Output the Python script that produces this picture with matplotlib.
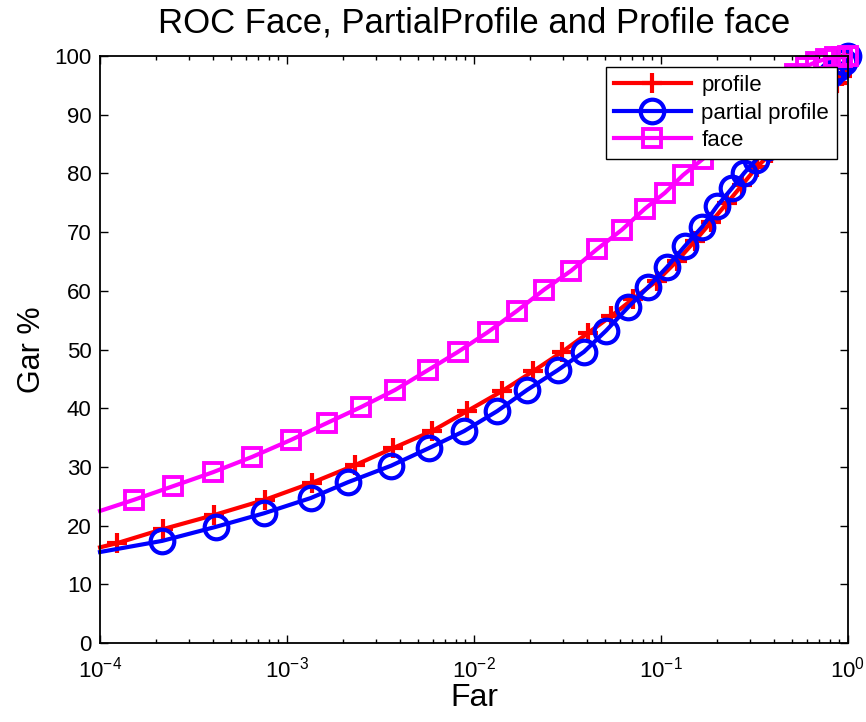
import numpy as np
import matplotlib
matplotlib.use("Agg")
import matplotlib.pyplot as plt
from matplotlib.ticker import LogLocator, FixedLocator

plt.rcParams['font.family'] = ['Liberation Sans', 'DejaVu Sans']
plt.rcParams['mathtext.fontset'] = 'custom'
plt.rcParams['mathtext.rm'] = 'Liberation Sans'
plt.rcParams['mathtext.it'] = 'Liberation Sans'

# operating points (false accept rate, genuine accept rate in %)
profile_far = [1.0e-4, 1.23e-4, 2.17e-4, 4.07e-4, 7.62e-4, 1.36e-3, 2.31e-3, 3.69e-3,
               5.96e-3, 9.18e-3, 1.41e-2, 2.07e-2, 2.96e-2, 4.07e-2, 5.41e-2, 7.08e-2,
               9.53e-2, 0.122, 0.152, 0.185, 0.225, 0.271, 0.326, 0.387, 0.461, 0.540,
               0.627, 0.708, 0.791, 0.873, 0.928, 0.975, 1.0]
profile_gar = [16.3, 17.0, 19.4, 21.8, 24.4, 27.3, 30.3, 33.2, 36.1, 39.5, 42.9, 46.3,
               49.6, 52.8, 55.7, 58.6, 61.7, 65.1, 68.5, 71.7, 74.9, 78.0, 81.1, 83.4,
               85.7, 88.0, 90.3, 92.3, 94.0, 95.4, 96.6, 98.0, 100.0]

partial_far = [1.0e-4, 2.15e-4, 4.17e-4, 7.53e-4, 1.34e-3, 2.12e-3, 3.60e-3, 5.74e-3,
               8.85e-3, 1.33e-2, 1.92e-2, 2.81e-2, 3.87e-2, 5.08e-2, 6.67e-2, 8.51e-2,
               0.108, 0.134, 0.166, 0.199, 0.240, 0.279, 0.322, 0.373, 0.432, 0.501,
               0.574, 0.650, 0.727, 0.811, 0.885, 0.953, 1.0]
partial_gar = [15.5, 17.4, 19.8, 22.1, 24.7, 27.4, 30.2, 33.2, 36.1, 39.5, 43.1, 46.5,
               49.6, 53.2, 57.2, 60.6, 64.1, 67.6, 70.9, 74.4, 77.5, 80.1, 82.3, 84.5,
               86.8, 89.2, 91.5, 93.5, 95.3, 96.9, 98.0, 99.0, 100.0]

face_far = [1.0e-4, 1.52e-4, 2.45e-4, 4.02e-4, 6.50e-4, 1.05e-3, 1.64e-3, 2.49e-3,
            3.78e-3, 5.68e-3, 8.21e-3, 1.19e-2, 1.70e-2, 2.37e-2, 3.30e-2, 4.55e-2,
            6.18e-2, 8.21e-2, 0.105, 0.131, 0.168, 0.212, 0.264, 0.322, 0.383, 0.449,
            0.521, 0.596, 0.675, 0.762, 0.851, 0.929, 1.0]
face_gar = [22.5, 24.4, 26.7, 29.1, 31.7, 34.6, 37.5, 40.2, 43.1, 46.5, 49.6, 53.0,
            56.6, 60.2, 63.4, 67.1, 70.4, 74.0, 76.7, 79.7, 82.5, 85.3, 88.0, 90.5,
            93.0, 95.2, 97.0, 98.2, 99.0, 99.5, 99.8, 99.9, 100.0]

fig = plt.figure(figsize=(8.66, 7.22), dpi=100)
ax = fig.add_axes([0.1155, 0.1094, 0.8637, 0.8130])

# first point sits on the left edge, no marker there
skip0 = slice(1, None)
ax.semilogx(profile_far, profile_gar, '-', color=(1, 0, 0), lw=3, marker='+',
            ms=15, mew=3, markevery=skip0, label='profile', clip_on=False)
ax.semilogx(partial_far, partial_gar, '-', color=(0, 0, 1), lw=3, marker='o',
            ms=17, mew=3, mfc='none', markevery=skip0, label='partial profile',
            clip_on=False)
ax.semilogx(face_far, face_gar, '-', color=(1, 0, 1), lw=3, marker='s',
            ms=12.5, mew=2.8, mfc='none', markevery=skip0, label='face',
            clip_on=False)

ax.set_xlim(1e-4, 1)
ax.set_ylim(0, 100)
ax.yaxis.set_major_locator(FixedLocator(np.arange(0, 101, 10)))
ax.xaxis.set_major_locator(LogLocator(base=10, numticks=10))
ax.xaxis.set_minor_locator(LogLocator(base=10, subs=np.arange(2, 10), numticks=20))

ax.tick_params(which='both', direction='in', top=True, right=True, labelsize=16,
               width=1.0)
ax.tick_params(axis='y', pad=6)
ax.tick_params(axis='x', pad=10)
ax.tick_params(which='major', length=6)
ax.tick_params(which='minor', length=3)
for s in ax.spines.values():
    s.set_linewidth(1.3)

ax.set_title('ROC Face, PartialProfile and Profile face', fontsize=25, pad=17)
ax.set_xlabel('Far', fontsize=23, labelpad=0)
ax.set_ylabel('Gar %', fontsize=22, labelpad=5)

leg = ax.legend(loc='upper right', fontsize=16, handlelength=3.5, fancybox=False,
                framealpha=1, edgecolor='black', borderaxespad=0.5,
                borderpad=0.35, labelspacing=0.3, handletextpad=0.45)
leg.get_frame().set_linewidth(1.0)
leg.set_zorder(5)

fig.savefig('out.png', dpi=100)
